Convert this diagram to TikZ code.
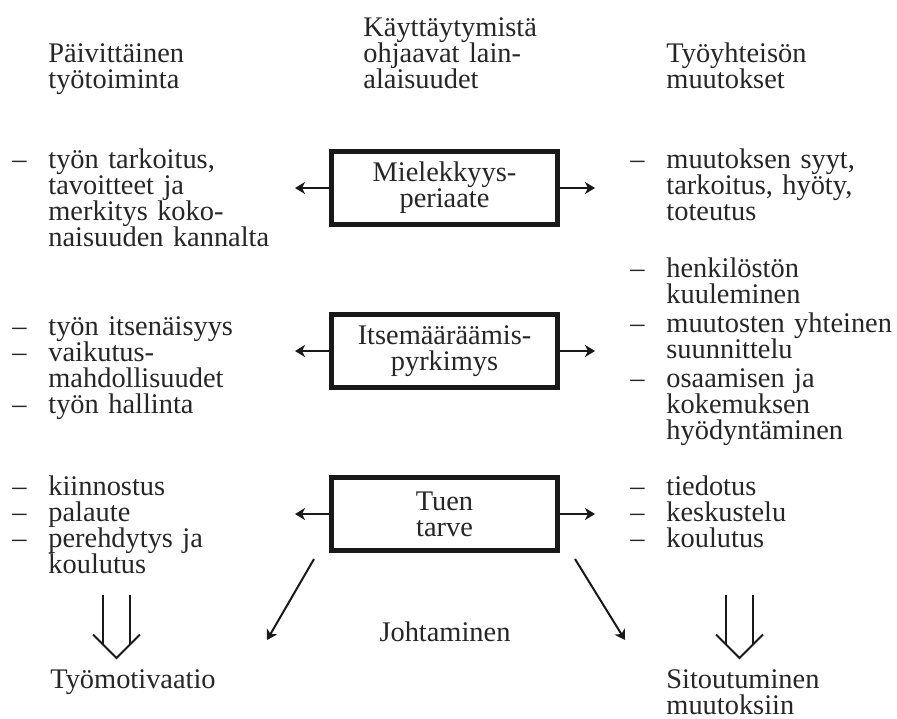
\documentclass[tikz,border=0pt]{standalone}
\usepackage{fontspec}
\setmainfont{Liberation Serif}
\usetikzlibrary{arrows.meta}
\lineskiplimit=-100pt
\begin{document}
\begin{tikzpicture}[x=0.5pt,y=-0.5pt,
  every node/.style={font=\fontsize{14.2pt}{13pt}\selectfont, inner sep=0pt, text=black!85},
  txt/.style={anchor=base west, text width=#1, align=left},
  txt/.default=130pt,
  dashmark/.style={anchor=base west},
  principle/.style={draw=black!90, line width=2.5pt, minimum width=113pt, minimum height=36.5pt, text width=100pt, align=center},
  sidearrow/.style={draw=black!90, line width=1pt, -{Stealth[length=5pt,width=6pt,inset=1.5pt]}},
  dblarrow/.style={draw=black!90, line width=1pt, line join=miter},
]
\useasboundingbox (0,0) rectangle (897,718);

% headers
\node[txt] (hl) at (48,62) {Päivittäinen\\työtoiminta};
\node[txt] (hm) at (363,36) {Käyttäytymistä\\ohjaavat lain-\\alaisuudet};
\node[txt] (hr) at (666,62) {Työyhteisön\\muutokset};

% principle boxes
\node[principle] (b1) at (444.5,188) {Mielekkyys-\\periaate};
\node[principle] (b2) at (444.5,351) {Itsemääräämis-\\pyrkimys};
\node[principle] (b3) at (444.5,514) {Tuen\\tarve};

% side arrows
\foreach \b/\yy in {b1/188, b2/351, b3/514} {
  \coordinate (\b L) at (295,\yy);
  \coordinate (\b R) at (595,\yy);
  \draw[sidearrow] (\b.west) -- (\b L);
  \draw[sidearrow] (\b.east) -- (\b R);
}

% section 1
\node[dashmark] (d1a) at (12,168) {–};
\node[txt] (l1a) at (48,168) {työn tarkoitus,\\tavoitteet ja\\merkitys koko-\\naisuuden kannalta};
\node[dashmark] (d1b) at (630,168) {–};
\node[txt=120pt] (r1a) at (666,168) {muutoksen syyt,\\tarkoitus, hyöty,\\toteutus};

% section 2
\node[dashmark] (d2a) at (12,335) {–};
\node[txt] (l2a) at (48,335) {työn itsenäisyys};
\node[dashmark] (d2b) at (12,361) {–};
\node[txt] (l2b) at (48,361) {vaikutus-\\mahdollisuudet};
\node[dashmark] (d2c) at (12,413) {–};
\node[txt] (l2c) at (48,413) {työn hallinta};

\node[dashmark] (d2d) at (630,277) {–};
\node[txt=120pt] (r2a) at (666,277) {henkilöstön\\kuuleminen};
\node[dashmark] (d2e) at (630,332) {–};
\node[txt=120pt] (r2b) at (666,332) {muutosten yhteinen\\suunnittelu};
\node[dashmark] (d2f) at (630,387) {–};
\node[txt=120pt] (r2c) at (666,387) {osaamisen ja\\kokemuksen\\hyödyntäminen};

% section 3
\node[dashmark] (d3a) at (12,495) {–};
\node[txt] (l3a) at (48,495) {kiinnostus};
\node[dashmark] (d3b) at (12,521) {–};
\node[txt] (l3b) at (48,521) {palaute};
\node[dashmark] (d3c) at (12,547) {–};
\node[txt] (l3c) at (48,547) {perehdytys ja\\koulutus};

\node[dashmark] (d3d) at (630,495) {–};
\node[txt=120pt] (r3a) at (666,495) {tiedotus};
\node[dashmark] (d3e) at (630,521) {–};
\node[txt=120pt] (r3b) at (666,521) {keskustelu};
\node[dashmark] (d3f) at (630,547) {–};
\node[txt=120pt] (r3c) at (666,547) {koulutus};

% leadership arrows
\node[anchor=base] (jo) at (445,641) {Johtaminen};
\coordinate (j1s) at (314,559);
\coordinate (j1e) at (267,640);
\coordinate (j2s) at (575,559);
\coordinate (j2e) at (625,640);
\draw[sidearrow] (j1s) -- (j1e);
\draw[sidearrow] (j2s) -- (j2e);

% double arrows
\foreach \cx/\nm in {116.5/ml, 739.5/mr} {
  \coordinate (\nm) at (\cx,595);
  \draw[dblarrow] (\nm) ++(-13.5,0) -- ++(0,49.5);
  \draw[dblarrow] (\nm) ++(13.5,0) -- ++(0,49.5);
  \draw[dblarrow] (\nm) ++(-23.5,39.5) -- ++(23.5,23.5) -- ++(23.5,-23.5);
}

% outcomes
\node[txt] (om) at (50,688) {Työmotivaatio};
\node[txt=120pt] (os) at (666,688) {Sitoutuminen\\muutoksiin};
\end{tikzpicture}
\end{document}
